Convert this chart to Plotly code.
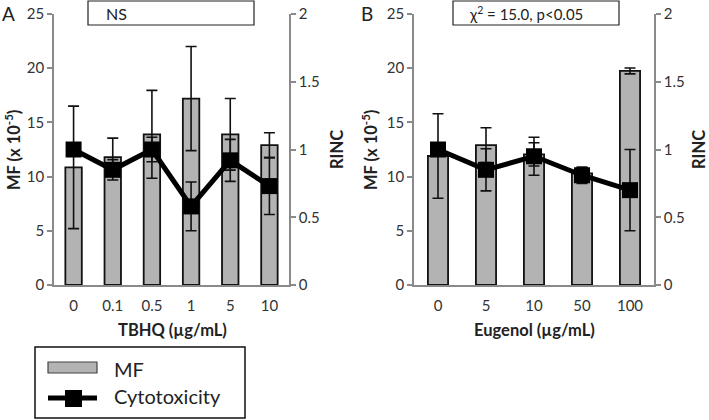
import plotly.graph_objects as go

W, H = 709, 420

# ---------------- data ----------------
cats_a = ["0", "0.1", "0.5", "1", "5", "10"]
mf_a = [10.85, 11.8, 13.9, 17.2, 13.9, 12.9]
mf_err_a = [5.65, 1.75, 4.05, 4.8, 3.3, 1.15]
rinc_a = [1.0, 0.85, 1.0, 0.58, 0.92, 0.73]
rinc_err_a = [0.03, 0.075, 0.09, 0.18, 0.155, 0.21]

cats_b = ["0", "5", "10", "50", "100"]
mf_b = [11.9, 12.9, 12.05, 10.3, 19.75]
mf_err_b = [3.9, 1.6, 1.07, 0.5, 0.27]
rinc_b = [1.0, 0.85, 0.95, 0.81, 0.70]
rinc_err_b = [0.03, 0.155, 0.14, 0.06, 0.30]

mf_ticks = [0, 5, 10, 15, 20, 25]
rinc_ticks = [0, 0.5, 1, 1.5, 2]
rinc_ticktext = ["0", "0.5", "1", "1.5", "2"]

stat_a = "NS"
stat_b = "χ<sup>2</sup> = 15.0, p<0.05"
xtitle_a = "TBHQ (µg/mL)"
xtitle_b = "Eugenol (µg/mL)"
ytitle_left = "MF (x 10<sup>-5</sup>)"
ytitle_right = "RINC"
legend_labels = ["MF", "Cytotoxicity"]

# ---------------- styles ----------------
FONT = "Lato, 'Open Sans', sans-serif"
BAR_FILL = "#b3b3b3"
AX_COL = "#8a8a8a"
TXT = "#222222"


def px(x):
    return x / W


def py(y):
    return 1 - y / H


fig = go.Figure()


def add_panel(cats, mf, mf_err, rinc, rinc_err, xa, ya, ya2):
    fig.add_trace(go.Bar(
        x=cats, y=mf, xaxis=xa, yaxis=ya,
        marker=dict(color=BAR_FILL, line=dict(color="#111111", width=1.8)),
        error_y=dict(type="data", array=mf_err, visible=True,
                     color="#111111", thickness=1.6, width=5.5),
        showlegend=False, name=legend_labels[0],
    ))
    fig.add_trace(go.Scatter(
        x=cats, y=rinc, xaxis=xa, yaxis=ya2, mode="lines+markers",
        line=dict(color="#000000", width=5),
        marker=dict(symbol="square", size=16, color="#000000"),
        error_y=dict(type="data", array=rinc_err, visible=True,
                     color="#111111", thickness=1.6, width=5.5),
        showlegend=False, name=legend_labels[1],
    ))


add_panel(cats_a, mf_a, mf_err_a, rinc_a, rinc_err_a, "x", "y", "y2")
add_panel(cats_b, mf_b, mf_err_b, rinc_b, rinc_err_b, "x2", "y3", "y4")

ydom = [py(285), py(14)]
tickfont = dict(family=FONT, size=15, color="#333333")

xcommon = dict(type="category", showline=True, linecolor=AX_COL, linewidth=1.5,
               ticks="outside", ticklen=6, tickcolor="rgba(0,0,0,0)",
               tickfont=tickfont, showgrid=False, zeroline=False,
               fixedrange=True, automargin=False)
yleft = dict(range=[0, 25], tickvals=mf_ticks, showline=True, linecolor=AX_COL,
             linewidth=1.5, ticks="outside", ticklen=5, tickcolor=AX_COL,
             tickwidth=1.5, tickfont=tickfont, showgrid=False, zeroline=False,
             domain=ydom, automargin=False)
yright = dict(range=[0, 2], tickvals=rinc_ticks, ticktext=rinc_ticktext,
              showline=True, linecolor=AX_COL, linewidth=1.5, ticks="outside",
              ticklen=5, tickcolor=AX_COL, tickwidth=1.5, tickfont=tickfont,
              showgrid=False, zeroline=False, side="right", automargin=False)

fig.update_layout(
    width=W, height=H,
    autosize=False,
    margin=dict(l=0, r=0, t=0, b=0, pad=0),
    paper_bgcolor="white", plot_bgcolor="white",
    bargap=0.58,
    font=dict(family=FONT, color=TXT),
    xaxis=dict(domain=[px(54), px(289)], anchor="y",
               range=[-0.5, len(cats_a) - 0.5], **xcommon),
    yaxis=dict(anchor="x", **yleft),
    yaxis2=dict(anchor="x", overlaying="y", **yright),
    xaxis2=dict(domain=[px(414), px(654)], anchor="y3",
                range=[-0.5, len(cats_b) - 0.5], **xcommon),
    yaxis3=dict(anchor="x2", **yleft),
    yaxis4=dict(anchor="x2", overlaying="y3", **yright),
    showlegend=False,
)

shapes = []
annotations = []


def ann(text, x, y, size, bold=False, angle=0, xanchor="center", color=TXT):
    annotations.append(dict(
        text=("<b>%s</b>" % text) if bold else text,
        x=px(x), y=py(y), xref="paper", yref="paper",
        xanchor=xanchor, yanchor="middle", showarrow=False,
        textangle=angle, font=dict(family=FONT, size=size, color=color),
    ))


def rect(x0, y0, x1, y1, line_col="#222222", lw=1.2, fill="rgba(0,0,0,0)"):
    shapes.append(dict(type="rect", xref="paper", yref="paper",
                       x0=px(x0), x1=px(x1), y0=py(y1), y1=py(y0),
                       line=dict(color=line_col, width=lw), fillcolor=fill,
                       layer="above"))


# stat boxes
rect(88, 1, 254, 25)
ann(stat_a, 104, 14, 16, xanchor="left")
rect(453, 1, 619, 25)
ann(stat_b, 467, 14, 15, xanchor="left")

# panel labels
ann("A", 8, 14, 19)
ann("B", 367, 14, 19)

# axis titles
ann(ytitle_left, 13, 150, 16.5, bold=True, angle=-90)
ann(ytitle_left, 370, 150, 16.5, bold=True, angle=-90)
ann(ytitle_right, 337, 150, 16.5, bold=True, angle=-90)
ann(ytitle_right, 699, 150, 16.5, bold=True, angle=-90)
ann(xtitle_a, 172, 330, 16.5, bold=True)
ann(xtitle_b, 534, 330, 16.5, bold=True)

# legend box (manual)
rect(35, 347, 245, 418, line_col="#111111", lw=1.5)
rect(48, 362, 97, 373, line_col="#444444", lw=1.2, fill=BAR_FILL)
ann(legend_labels[0], 112, 369, 20, xanchor="left")
shapes.append(dict(type="line", xref="paper", yref="paper",
                   x0=px(48), x1=px(97), y0=py(398), y1=py(398),
                   line=dict(color="#000000", width=5), layer="above"))
rect(65, 390, 82, 407, line_col="#000000", lw=0, fill="#000000")
ann(legend_labels[1], 112, 396, 20, xanchor="left")

fig.update_layout(shapes=shapes, annotations=annotations)

fig.write_html(
    "out.html",
    config={"displayModeBar": False},
    post_script="document.body.style.margin='0';document.body.style.overflow='hidden';",
)
